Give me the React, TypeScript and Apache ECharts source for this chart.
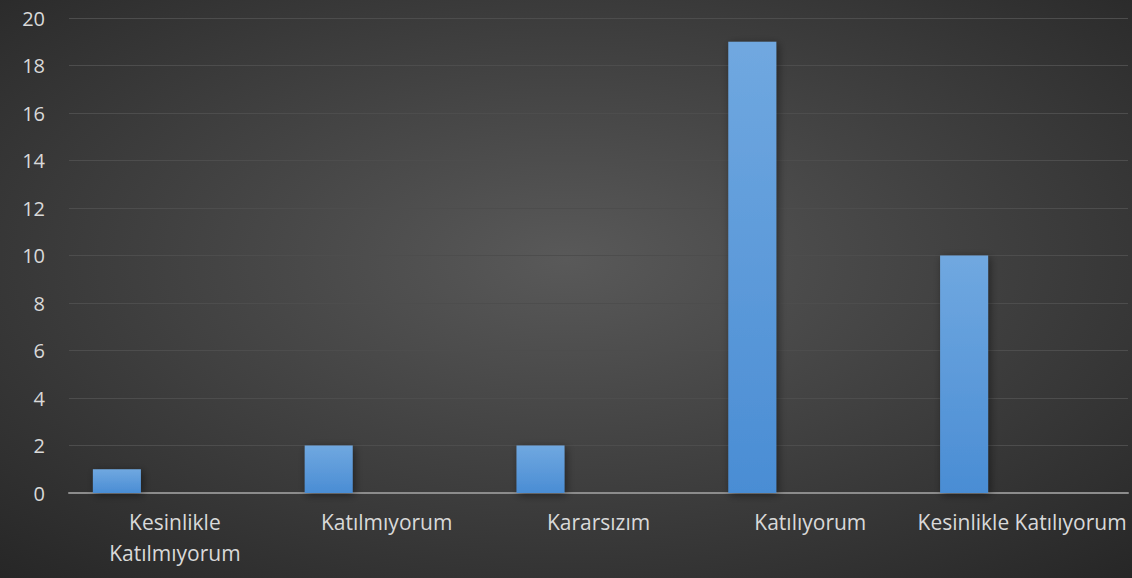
import React, { useEffect, useRef } from "react";
import * as echarts from "echarts";

const categories = [
  "Kesinlikle Katılmıyorum",
  "Katılmıyorum",
  "Kararsızım",
  "Katılıyorum",
  "Kesinlikle Katılıyorum",
];
const values = [1, 2, 2, 19, 10];
const emptyValues = ["-", "-", "-", "-", "-"];

export default function App() {
  const ref = useRef<HTMLDivElement>(null);
  useEffect(() => {
    document.body.style.margin = "0";
    const chart = echarts.init(ref.current!, null, { renderer: "svg" });
    chart.setOption({
      animation: false,
      backgroundColor: new echarts.graphic.RadialGradient(0.5, 0.45, 0.75, [
        { offset: 0, color: "#595959" },
        { offset: 1, color: "#262626" },
      ]),
      grid: { left: 69, right: 4, top: 18, bottom: 85, containLabel: false },
      xAxis: {
        type: "category",
        data: categories,
        axisLine: { lineStyle: { color: "#8c8c8c", width: 2 } },
        axisTick: { show: false },
        axisLabel: {
          color: "#d9d9d9",
          fontFamily: "Open Sans",
          fontSize: 21,
          margin: 13,
          lineHeight: 31,
          interval: 0,
          formatter: (v: string) =>
            v === "Kesinlikle Katılmıyorum" ? v.replace(" ", "\n") : v,
        },
      },
      yAxis: {
        type: "value",
        min: 0,
        max: 20,
        interval: 2,
        axisLine: { show: false },
        axisTick: { show: false },
        splitLine: { lineStyle: { color: "#4d4d4d", width: 1 } },
        axisLabel: {
          color: "#d9d9d9",
          fontFamily: "Open Sans",
          fontSize: 20,
          margin: 24,
        },
      },
      series: [
        {
          type: "bar",
          data: values,
          barWidth: 48,
          barGap: "141.67%",
          itemStyle: {
            color: new echarts.graphic.LinearGradient(0, 0, 0, 1, [
              { offset: 0, color: "#70a8e0" },
              { offset: 1, color: "#4a8dd4" },
            ]),
            shadowBlur: 8,
            shadowColor: "rgba(0,0,0,0.45)",
            shadowOffsetX: 2,
            shadowOffsetY: 2,
          },
        },
        {
          type: "bar",
          data: emptyValues,
          barWidth: 48,
        },
      ],
    });
    return () => chart.dispose();
  }, []);
  return <div ref={ref} style={{ width: 1132, height: 578 }} />;
}
